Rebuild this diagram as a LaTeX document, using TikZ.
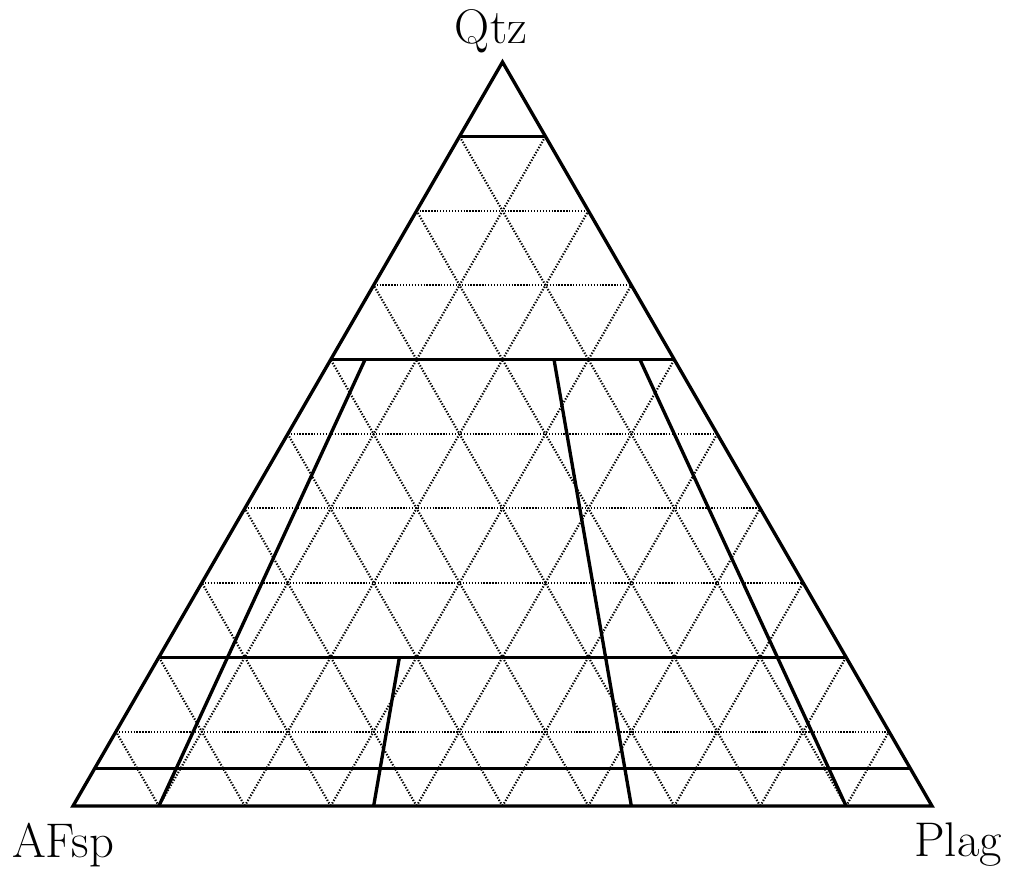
\documentclass[tikz,border=0pt]{standalone}
\usetikzlibrary{calc}
\begin{document}
\begin{tikzpicture}[x=0.75pt,y=-0.75pt,
  edge/.style={line width=2.5pt,line join=miter,line cap=rect},
  field/.style={line width=2.5pt,line cap=butt},
  grid/.style={line width=1.6pt,black,dash pattern=on 1pt off 1.2pt},
  lbl/.style={font=\fontsize{36.5}{42}\selectfont,inner sep=0pt}]
\useasboundingbox (0,0) rectangle (1013,876);
\coordinate (A) at (73,806);
\coordinate (P) at (932,806);
\coordinate (Q) at (502.5,62);
% dotted 10% grid
\foreach \i in {1,...,9}{
  \pgfmathsetmacro{\f}{\i/10}
  \pgfmathsetmacro{\g}{1-\i/10}
  \coordinate (hl\i) at (barycentric cs:Q=\f,A=\g,P=0);
  \coordinate (hr\i) at (barycentric cs:Q=\f,A=0,P=\g);
  \coordinate (pb\i) at (barycentric cs:Q=0,A=\g,P=\f);
  \coordinate (pt\i) at (barycentric cs:Q=\g,A=0,P=\f);
  \coordinate (ab\i) at (barycentric cs:Q=0,A=\f,P=\g);
  \coordinate (at\i) at (barycentric cs:Q=\g,A=\f,P=0);
  \draw[grid] (hl\i) -- (hr\i);
  \draw[grid] (pb\i) -- (pt\i);
  \draw[grid] (ab\i) -- (at\i);
}
% field boundaries: horizontal
\foreach \q/\n in {0.9/a,0.6/b,0.2/c,0.05/d}{
  \pgfmathsetmacro{\g}{1-\q}
  \coordinate (L\n) at (barycentric cs:Q=\q,A=\g,P=0);
  \coordinate (R\n) at (barycentric cs:Q=\q,A=0,P=\g);
  \draw[field] (L\n) -- (R\n);
}
% field boundaries: ratio lines P/(A+P)
\foreach \r/\qt/\n in {0.1/0.6/a,0.65/0.6/b,0.9/0.6/c,0.35/0.2/d}{
  \pgfmathsetmacro{\ta}{(1-\qt)*(1-\r)}
  \pgfmathsetmacro{\tp}{(1-\qt)*\r}
  \pgfmathsetmacro{\ba}{1-\r}
  \coordinate (T\n) at (barycentric cs:Q=\qt,A=\ta,P=\tp);
  \coordinate (B\n) at (barycentric cs:Q=0,A=\ba,P=\r);
  \draw[field] (T\n) -- (B\n);
}
\draw[edge] (A) -- (P) -- (Q) -- cycle;
\node[lbl,anchor=base] (qtz) at (491,43) {Qtz};
\node[lbl,anchor=base west] (afsp) at (12,857) {AFsp};
\node[lbl,anchor=base east] (plag) at (1002,856) {Plag};
\end{tikzpicture}
\end{document}
